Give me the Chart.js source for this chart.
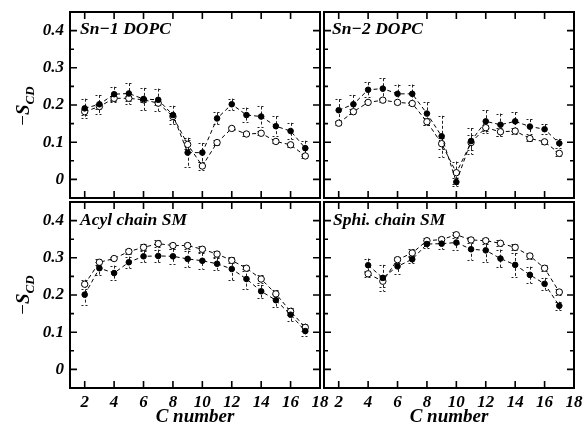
<!DOCTYPE html>
<html><head><meta charset="utf-8">
<script src="https://cdn.jsdelivr.net/npm/chart.js@4/dist/chart.umd.min.js"></script>
<style>
html,body{margin:0;padding:0;background:#fff;}
#wrap{position:relative;width:585px;height:430px;overflow:hidden;background:#fff;}
canvas{position:absolute;left:0;top:0;}
.lbl{position:absolute;font-family:'Liberation Serif','Times New Roman',serif;font-style:italic;font-weight:bold;font-size:17.5px;line-height:17px;white-space:nowrap;color:#000;}
.ytitle{position:absolute;width:70px;height:24px;line-height:24px;text-align:center;font-family:'Liberation Serif','Times New Roman',serif;font-size:19px;transform:rotate(-90deg);color:#000;white-space:nowrap;}
.ytitle i{font-weight:bold;}
.ytitle span{font-size:13px;font-style:italic;font-weight:bold;position:relative;top:5px;}
</style></head>
<body><div id="wrap">
<canvas id="c1" width="585" height="430"></canvas>
<canvas id="c2" width="585" height="430"></canvas>
<canvas id="c3" width="585" height="430"></canvas>
<canvas id="c4" width="585" height="430"></canvas>
<div class="lbl" style="left:80px;top:20px">Sn−1 DOPC</div>
<div class="lbl" style="left:332px;top:20px">Sn−2 DOPC</div>
<div class="lbl" style="left:80px;top:211px">Acyl chain SM</div>
<div class="lbl" style="left:333px;top:211px">Sphi. chain SM</div>
<div class="ytitle" style="left:-12px;top:94px">−<i>S</i><span>CD</span></div>
<div class="ytitle" style="left:-12px;top:283px">−<i>S</i><span>CD</span></div>
</div>
<script>
// ---- data ----
const carbons = [2,3,4,5,6,7,8,9,10,11,12,13,14,15,16,17];
const sphiCarbons = [4,5,6,7,8,9,10,11,12,13,14,15,16,17];
const xTicks = [2,4,6,8,10,12,14,16,18];
const yTicks = [0,0.1,0.2,0.3,0.4];
const yMinor = [0.05,0.15,0.25,0.35];

const sn1Filled    = [0.191,0.202,0.229,0.231,0.216,0.214,0.173,0.072,0.072,0.164,0.202,0.173,0.169,0.143,0.130,0.084];
const sn1FilledErr = [0.026,0.025,0.020,0.028,0.030,0.030,0.025,0.040,0.026,0.016,0.015,0.020,0.027,0.027,0.022,0.020];
const sn1Open      = [0.182,0.196,0.218,0.218,0.214,0.205,0.169,0.094,0.036,0.099,0.137,0.122,0.124,0.102,0.093,0.063];
const sn1OpenErr   = [0.008,0.008,0.006,0.006,0.006,0.006,0.010,0.012,0.012,0.006,0.005,0.005,0.005,0.005,0.005,0.006];

const sn2Filled    = [0.186,0.202,0.241,0.244,0.230,0.230,0.177,0.116,-0.007,0.103,0.156,0.147,0.156,0.142,0.135,0.097];
const sn2FilledErr = [0.030,0.025,0.020,0.028,0.025,0.025,0.030,0.055,0.010,0.035,0.030,0.030,0.025,0.020,0.014,0.012];
const sn2Open      = [0.151,0.182,0.207,0.213,0.207,0.204,0.155,0.096,0.018,0.099,0.139,0.128,0.130,0.110,0.101,0.070];
const sn2OpenErr   = [0.006,0.006,0.005,0.005,0.005,0.005,0.010,0.015,0.030,0.020,0.008,0.010,0.008,0.006,0.005,0.006];

const acylFilled    = [0.201,0.272,0.259,0.288,0.304,0.305,0.304,0.297,0.292,0.284,0.270,0.243,0.210,0.186,0.147,0.103];
const acylFilledErr = [0.027,0.017,0.020,0.015,0.016,0.017,0.020,0.022,0.021,0.016,0.030,0.028,0.017,0.017,0.017,0.013];
const acylOpen      = [0.229,0.288,0.298,0.317,0.328,0.338,0.333,0.333,0.323,0.310,0.293,0.272,0.243,0.203,0.156,0.113];
const acylOpenErr   = [0.012,0.008,0.005,0.008,0.010,0.010,0.008,0.008,0.008,0.008,0.008,0.008,0.010,0.010,0.010,0.010];

const sphiFilled    = [0.280,0.246,0.277,0.296,0.337,0.338,0.341,0.323,0.320,0.298,0.281,0.254,0.230,0.171];
const sphiFilledErr = [0.018,0.035,0.020,0.010,0.010,0.015,0.020,0.028,0.030,0.024,0.032,0.022,0.016,0.011];
const sphiOpen      = [0.257,0.237,0.295,0.313,0.346,0.349,0.362,0.348,0.346,0.339,0.328,0.305,0.272,0.208];
const sphiOpenErr   = [0.008,0.015,0.008,0.010,0.008,0.008,0.008,0.008,0.008,0.008,0.008,0.008,0.008,0.008];

// ---- rendering ----
const FONT = {family:"'Liberation Serif','Times New Roman',serif", size:17, style:'italic', weight:'bold'};
const TITLE_FONT = {family:"'Liberation Serif','Times New Roman',serif", size:19, style:'italic', weight:'bold'};

const errorBarPlugin = {
  id:'errorBars',
  beforeDatasetsDraw(chart){
    const {ctx, scales:{x,y}} = chart;
    ctx.save();
    ctx.strokeStyle = '#222';
    ctx.lineWidth = 1;
    chart.data.datasets.forEach(ds=>{
      if(!ds.errors) return;
      ds.data.forEach((p,i)=>{
        const e = ds.errors[i];
        const px = Math.round(x.getPixelForValue(p.x)) + 0.5;
        const y1 = y.getPixelForValue(p.y + e), y2 = y.getPixelForValue(p.y - e);
        ctx.setLineDash([3,2]);
        ctx.beginPath(); ctx.moveTo(px,y1); ctx.lineTo(px,y2); ctx.stroke();
        ctx.setLineDash([2,2]);
        ctx.beginPath();
        ctx.moveTo(px-4,Math.round(y1)+0.5); ctx.lineTo(px+4,Math.round(y1)+0.5);
        ctx.moveTo(px-4,Math.round(y2)+0.5); ctx.lineTo(px+4,Math.round(y2)+0.5);
        ctx.stroke();
      });
    });
    ctx.restore();
  }
};

const framePlugin = {
  id:'frame',
  afterDraw(chart){
    const {ctx, chartArea:a, scales:{x,y}} = chart;
    ctx.save();
    ctx.strokeStyle = '#000';
    ctx.setLineDash([]);
    ctx.lineWidth = 1.6;
    ctx.beginPath();
    xTicks.forEach(v=>{
      const px = x.getPixelForValue(v);
      ctx.moveTo(px,a.bottom); ctx.lineTo(px,a.bottom-7);
      ctx.moveTo(px,a.top); ctx.lineTo(px,a.top+7);
    });
    yTicks.forEach(v=>{
      const py = y.getPixelForValue(v);
      ctx.moveTo(a.left,py); ctx.lineTo(a.left+7,py);
      ctx.moveTo(a.right,py); ctx.lineTo(a.right-7,py);
    });
    yMinor.forEach(v=>{
      const py = y.getPixelForValue(v);
      ctx.moveTo(a.left,py); ctx.lineTo(a.left+4,py);
      ctx.moveTo(a.right,py); ctx.lineTo(a.right-4,py);
    });
    ctx.stroke();
    ctx.lineWidth = 2;
    ctx.strokeRect(a.left,a.top,a.right-a.left,a.bottom-a.top);
    ctx.restore();
  }
};

function series(cats, vals, errs, open){
  return {
    data: cats.map((c,i)=>({x:c, y:vals[i]})),
    errors: errs,
    borderColor:'#000', borderWidth:1, borderDash:[4,3],
    pointRadius: open ? 3.2 : 2.8,
    pointBackgroundColor: open ? '#fff' : '#000',
    pointBorderColor:'#000', pointBorderWidth:1,
    fill:false, tension:0
  };
}

function panel(id, cats, filled, filledErr, open, openErr, pad, showY, showX){
  new Chart(document.getElementById(id), {
    type:'line',
    data:{datasets:[series(cats,filled,filledErr,false), series(cats,open,openErr,true)]},
    options:{
      responsive:false, animation:false, devicePixelRatio:1, events:[],
      layout:{padding:pad},
      plugins:{legend:{display:false}, tooltip:{enabled:false}},
      scales:{
        x:{type:'linear', min:1, max:18, display:showX,
           grid:{display:false, drawTicks:false}, border:{display:false},
           afterBuildTicks:s=>{ s.ticks = xTicks.map(v=>({value:v})); },
           afterFit:s=>{ s.height = showX ? 42 : 0; s.paddingLeft = 0; s.paddingRight = 0; s.paddingTop = 0; s.paddingBottom = 0; },
           ticks:{font:FONT, color:'#000', padding:4, maxRotation:0, autoSkip:false},
           title:{display:true, text:'C number', font:TITLE_FONT, color:'#000', padding:{top:0,bottom:2}}},
        y:{type:'linear', min:-0.05, max:0.45, display:showY,
           grid:{display:false, drawTicks:false}, border:{display:false},
           afterBuildTicks:s=>{ s.ticks = yTicks.map(v=>({value:v})); },
           afterFit:s=>{ s.width = showY ? 70 : 0; s.paddingLeft = 0; s.paddingRight = 0; s.paddingTop = 0; s.paddingBottom = 0; },
           ticks:{font:FONT, color:'#000', padding:6,
                  callback:v=> Math.abs(v)<1e-9 ? '0' : Number(v).toFixed(1)}}
      }
    },
    plugins:[errorBarPlugin, framePlugin]
  });
}

panel('c1', carbons, sn1Filled, sn1FilledErr, sn1Open, sn1OpenErr, {left:0, top:12, right:265, bottom:232}, true, false);
panel('c2', carbons, sn2Filled, sn2FilledErr, sn2Open, sn2OpenErr, {left:324, top:12, right:11, bottom:232}, false, false);
panel('c3', carbons, acylFilled, acylFilledErr, acylOpen, acylOpenErr, {left:0, top:202, right:265, bottom:0}, true, true);
panel('c4', sphiCarbons, sphiFilled, sphiFilledErr, sphiOpen, sphiOpenErr, {left:324, top:202, right:11, bottom:0}, false, true);
</script>
</body></html>
